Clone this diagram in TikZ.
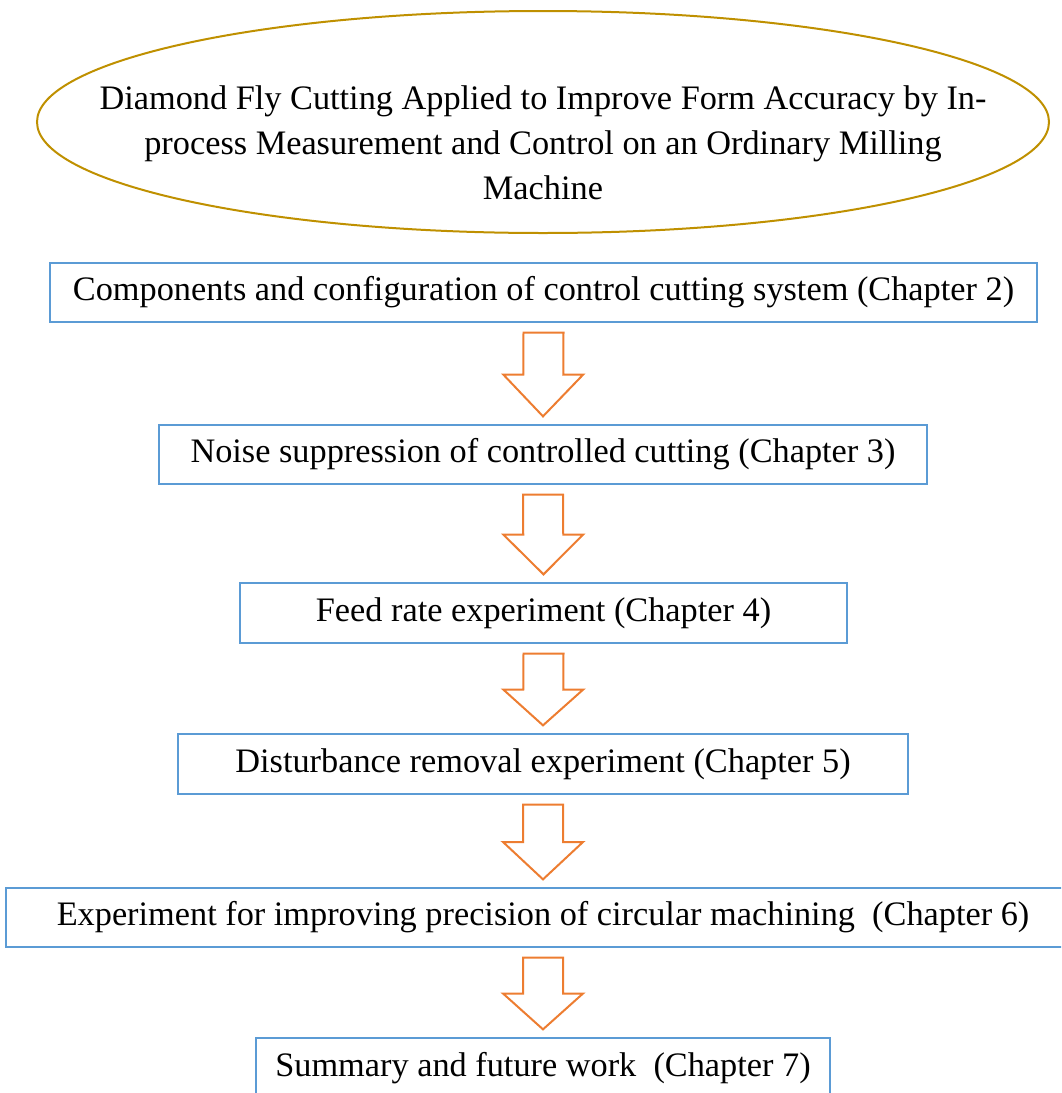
\documentclass[tikz,border=0pt]{standalone}
\usepackage{fontspec}
\setmainfont{Liberation Serif}
\usetikzlibrary{calc}
\definecolor{goldline}{HTML}{BF9000}
\definecolor{boxblue}{HTML}{5B9BD5}
\definecolor{arroworange}{HTML}{ED7D31}
\tikzset{
  stagebox/.style={draw=boxblue, line width=1.3pt, fill=white, inner sep=0pt,
    font=\fontsize{34.3}{45}\selectfont, anchor=center},
  titletext/.style={inner sep=0pt, align=center,
    font=\fontsize{34.3}{45}\selectfont},
  titleoval/.style={draw=goldline, line width=2pt},
  blockarrow/.style={draw=arroworange, line width=2pt, fill=white, line join=miter}
}
\newcommand\flowarrow[2]{%
  \coordinate (A) at ($(#1.south)+(0,10)$);
  \coordinate (B) at ($(#2.north)+(0,-8)$);
  \coordinate (M) at ($(A)!0.5!(B)$);
  \draw[blockarrow] ($(A)+(-20,0)$) -- ($(A)+(20,0)$) -- ($(M)+(20,0)$)
    -- ($(M)+(40,0)$) -- (B) -- ($(M)+(-40,0)$) -- ($(M)+(-20,0)$) -- cycle;}
\begin{document}
\begin{tikzpicture}[x=1pt,y=-1pt]
\useasboundingbox (0,0) rectangle (1061,1093);
\clip (0,0) rectangle (1061,1093);
\node[titletext] (title) at (543,122)
  {\rule{0pt}{66pt}Diamond Fly Cutting Applied to Improve Form Accuracy by In-\\
   process Measurement and Control on an Ordinary Milling\\ Machine};
\draw[titleoval] (title.center) ellipse [x radius=506pt, y radius=111pt];
\node[stagebox, minimum width=987pt, minimum height=59pt] (c2) at (543.5,292.5)
  {Components and configuration of control cutting system (Chapter 2)};
\node[stagebox, minimum width=768pt, minimum height=59pt] (c3) at (543,454.5)
  {Noise suppression of controlled cutting (Chapter 3)};
\node[stagebox, minimum width=607pt, minimum height=60pt] (c4) at (543.5,613)
  {Feed rate experiment (Chapter 4)};
\node[stagebox, minimum width=730pt, minimum height=60pt] (c5) at (543,764)
  {Disturbance removal experiment (Chapter 5)};
\node[stagebox, minimum width=1074pt, minimum height=59pt] (c6) at (543,917.5)
  {Experiment for improving precision of circular machining\ \ (Chapter 6)};
\node[stagebox, minimum width=574pt, minimum height=60pt] (c7) at (543,1068)
  {Summary and future work\ \ (Chapter 7)};
\flowarrow{c2}{c3}
\flowarrow{c3}{c4}
\flowarrow{c4}{c5}
\flowarrow{c5}{c6}
\flowarrow{c6}{c7}
\end{tikzpicture}
\end{document}
